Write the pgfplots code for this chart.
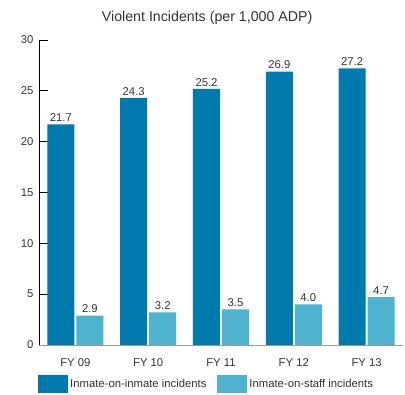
\documentclass[border=0pt]{standalone}
\usepackage{pgfplots}
\pgfplotsset{compat=1.18}
\usepackage{fontspec}
\setmainfont{Liberation Sans}
\definecolor{darkbar}{RGB}{0,122,173}
\definecolor{lightbar}{RGB}{79,179,208}
\definecolor{txt}{RGB}{51,51,51}
\begin{document}
\begin{tikzpicture}
\useasboundingbox (-39pt,-50pt) rectangle (366pt,345pt);
\begin{axis}[
  at={(0,0)}, anchor=south west,
  scale only axis, width=364pt, height=305pt,
  ymin=0, ymax=30, ytick={0,5,...,30},
  xmin=-0.5, xmax=4.5,
  xtick={0,1,2,3,4},
  xticklabels={FY 09,FY 10,FY 11,FY 12,FY 13},
  axis x line*=bottom, axis y line*=left,
  x axis line style={draw=gray!80, line width=0.8pt},
  y axis line style={draw=black, line width=0.8pt},
  x tick style={draw=none},
  y tick style={draw=black, line width=0.8pt},
  tick align=inside, major tick length=9pt,
  tick label style={font=\fontsize{11.3}{13}\selectfont, text=txt},
  /pgf/number format/assume math mode=true,
  yticklabel style={xshift=-2pt},
  xticklabel style={yshift=-1pt},
  title={Violent Incidents (per 1,000 ADP)},
  title style={font=\fontsize{14.2}{16}\selectfont, text=txt, at={(0.462,1)}, anchor=center, yshift=16pt},
  ybar, bar width=27pt,
  nodes near coords,
  every node near coord/.append style={font=\fontsize{11.3}{13}\selectfont, text=txt, /pgf/number format/fixed, /pgf/number format/fixed zerofill, /pgf/number format/precision=1, yshift=-1pt},
  legend style={at={(-0.011,-0.128)}, anchor=west, draw=none, font=\fontsize{11.3}{13}\selectfont, text=txt, legend columns=2, /tikz/every even column/.append style={column sep=9pt}},
  legend image code/.code={\fill[#1] (0pt,-9pt) rectangle (30pt,9pt);},
]
\addplot[fill=darkbar, draw=none, bar shift=-14.5pt] coordinates {(0,21.7) (1,24.3) (2,25.2) (3,26.9) (4,27.2)};
\addplot[fill=lightbar, draw=none, bar shift=14.5pt] coordinates {(0,2.9) (1,3.2) (2,3.5) (3,4.0) (4,4.7)};
\legend{Inmate-on-inmate incidents, Inmate-on-staff incidents}
\end{axis}
\end{tikzpicture}
\end{document}
